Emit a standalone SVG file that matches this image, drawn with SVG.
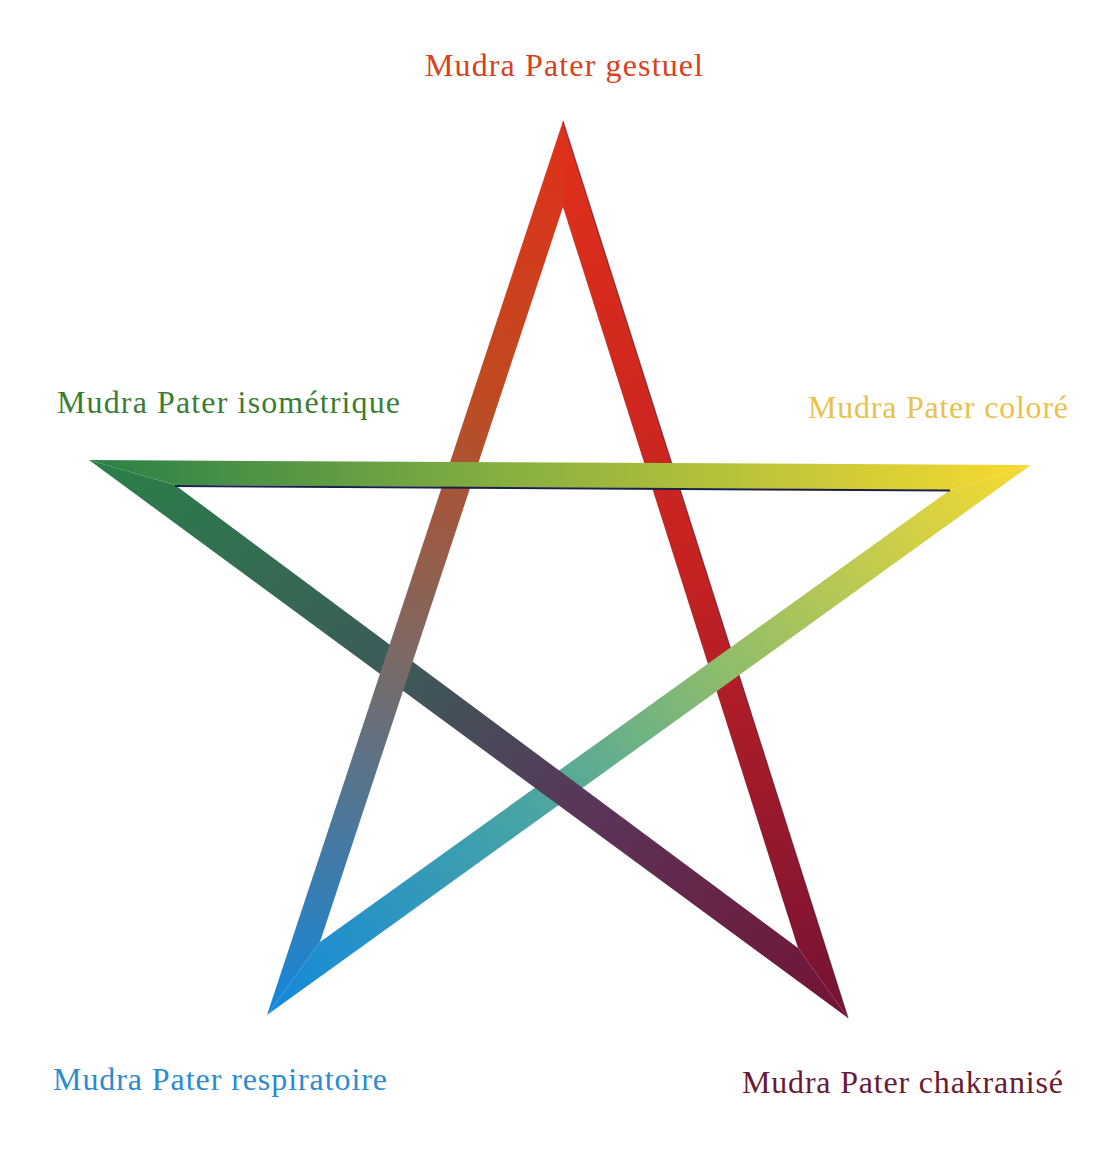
<svg xmlns="http://www.w3.org/2000/svg" width="1119" height="1150" viewBox="0 0 1119 1150">
<style>
.lbl{font-family:"Liberation Serif","DejaVu Serif",serif;font-size:32px}
</style>
<defs>
<linearGradient id="gTBR" gradientUnits="userSpaceOnUse" x1="563" y1="121" x2="848" y2="1018">
<stop offset="0" stop-color="#e0301a"/><stop offset="0.5" stop-color="#c42222"/><stop offset="1" stop-color="#741235"/>
</linearGradient>
<linearGradient id="gTBL" gradientUnits="userSpaceOnUse" x1="563" y1="121" x2="267" y2="1015">
<stop offset="0" stop-color="#e0301a"/><stop offset="0.3" stop-color="#c04a20"/><stop offset="0.6" stop-color="#7a6a66"/><stop offset="1" stop-color="#1288dc"/>
</linearGradient>
<linearGradient id="gLR" gradientUnits="userSpaceOnUse" x1="89" y1="460" x2="1031" y2="465">
<stop offset="0" stop-color="#2a8048"/><stop offset="0.45" stop-color="#88b040"/><stop offset="1" stop-color="#f8da30"/>
</linearGradient>
<linearGradient id="gLBR" gradientUnits="userSpaceOnUse" x1="89" y1="460" x2="848" y2="1018">
<stop offset="0" stop-color="#2a8048"/><stop offset="0.4" stop-color="#3c5a5a"/><stop offset="0.65" stop-color="#5a3558"/><stop offset="1" stop-color="#741235"/>
</linearGradient>
<linearGradient id="gRBL" gradientUnits="userSpaceOnUse" x1="1031" y1="465" x2="267" y2="1015">
<stop offset="0" stop-color="#f8da30"/><stop offset="0.4" stop-color="#8cbc6c"/><stop offset="0.65" stop-color="#48a4a4"/><stop offset="1" stop-color="#1288dc"/>
</linearGradient>
</defs>
<g id="connectors">
<polygon id="band-top-br" points="563,121 848,1018 798,948 563,207" fill="url(#gTBR)"/>
<line x1="563" y1="121" x2="848" y2="1018" stroke="#3a1030" stroke-width="1.2" opacity="0.6"/>
<polygon id="band-right-bl" points="1031,465 267,1015 320,942 950,490" fill="url(#gRBL)"/>
<polygon id="band-left-br" points="89,460 848,1018 798,948 175,485" fill="url(#gLBR)"/>
<polygon id="band-top-bl" points="563,121 267,1015 320,942 563,207" fill="url(#gTBL)"/>
<polygon id="band-left-right" points="89,460 1031,465 950,490 175,485" fill="url(#gLR)"/>
<line x1="175" y1="486" x2="950" y2="490.5" stroke="#1a2048" stroke-width="2"/>
</g>
<g id="node-gestuel"><text class="lbl" x="425" y="76" fill="#d8401e" textLength="278">Mudra Pater gestuel</text></g>
<g id="node-isometrique"><text class="lbl" x="57" y="413" fill="#3a7e34" textLength="343">Mudra Pater isométrique</text></g>
<g id="node-colore"><text class="lbl" x="808" y="418" fill="#e8c24a" textLength="260">Mudra Pater coloré</text></g>
<g id="node-respiratoire"><text class="lbl" x="53" y="1090" fill="#2a8ad2" textLength="334">Mudra Pater respiratoire</text></g>
<g id="node-chakranise"><text class="lbl" x="742" y="1093" fill="#6a1a32" textLength="321">Mudra Pater chakranisé</text></g>
</svg>
